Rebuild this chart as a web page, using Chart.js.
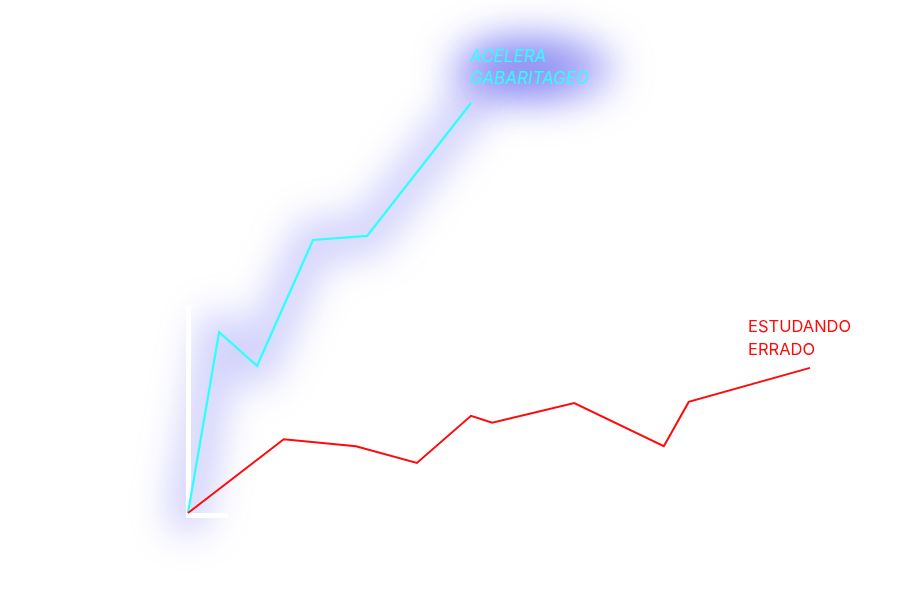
<!DOCTYPE html>
<html>
<head>
<meta charset="utf-8">
<script src="https://cdn.jsdelivr.net/npm/chart.js@4.4.0/dist/chart.umd.min.js"></script>
<style>
  html, body { margin: 0; padding: 0; background: #fff; }
  #wrap { width: 900px; height: 600px; }
</style>
</head>
<body>
<div id="wrap"><canvas id="chart"></canvas></div>
<script>
/* ── data ───────────────────────────────────────────────────── */
const aceleraX = [0, 5.0, 11.1, 20.1, 28.8, 45.5];
const aceleraY = [0, 44.1, 35.9, 66.6, 67.6, 100];
const erradoX  = [0, 15.4, 27.0, 36.8, 45.5, 48.9, 62.1, 76.5, 80.5, 100];
const erradoY  = [0, 18.0, 16.3, 12.2, 23.7, 22.0, 26.8, 16.3, 27.1, 35.4];
const aceleraLabel = ['ACELERA', 'GABARITAGEO'];
const erradoLabel  = ['ESTUDANDO', 'ERRADO'];

const C = {
    cyan: '#2cffff',
    glow: 'rgba(110,110,245,0.30)',
    red:  '#ff0a0a',
};

const GLOW = 2; // index of the glow dataset (drawn first, underneath)

const pts = (xs, ys) => xs.map((x, i) => ({ x, y: ys[i] }));

/* ── plugins ────────────────────────────────────────────────── */
const glowPlugin = {
    id: 'glow',
    beforeDatasetDraw(chart, args) {
        if (args.index !== GLOW) return;
        const ctx = chart.ctx;
        ctx.save();
        ctx.filter = 'blur(18px)';
    },
    afterDatasetDraw(chart, args) {
        if (args.index !== GLOW) return;
        const ctx = chart.ctx;
        ctx.restore();
        // label glow
        const { x, y } = chart.scales;
        const lx = x.getPixelForValue(aceleraX[aceleraX.length - 1]);
        const ly = y.getPixelForValue(aceleraY[aceleraY.length - 1]);
        ctx.save();
        ctx.filter = 'blur(20px)';
        ctx.fillStyle = 'rgba(100,100,240,0.6)';
        ctx.beginPath();
        ctx.ellipse(lx + 62, ly - 34, 80, 32, 0, 0, Math.PI * 2);
        ctx.fill();
        ctx.fillStyle = 'rgba(100,100,240,0.45)';
        ctx.beginPath();
        ctx.ellipse(lx + 50, ly - 34, 50, 20, 0, 0, Math.PI * 2);
        ctx.fill();
        ctx.restore();
        // white clipping strips
        const x0 = x.getPixelForValue(0), y0 = y.getPixelForValue(0);
        ctx.save();
        ctx.fillStyle = '#fff';
        ctx.fillRect(x0 - 2, y0 - 208, 5, 213);
        ctx.fillRect(x0 - 2, y0, 42, 5);
        ctx.restore();
    }
};

const labelPlugin = {
    id: 'endLabels',
    afterDatasetsDraw(chart) {
        const ctx = chart.ctx;
        const { x, y } = chart.scales;
        ctx.save();
        ctx.textAlign = 'left';
        ctx.textBaseline = 'middle';

        let lx = x.getPixelForValue(aceleraX[aceleraX.length - 1]);
        let ly = y.getPixelForValue(aceleraY[aceleraY.length - 1]);
        ctx.font = "italic 17px Inter, 'Noto Sans', sans-serif";
        ctx.fillStyle = C.cyan;
        aceleraLabel.forEach((t, i) => ctx.fillText(t, lx - 1, ly - 46 + i * 22));

        lx = x.getPixelForValue(erradoX[erradoX.length - 1]);
        ly = y.getPixelForValue(erradoY[erradoY.length - 1]);
        ctx.font = "16.5px Inter, 'Noto Sans', sans-serif";
        ctx.fillStyle = C.red;
        erradoLabel.forEach((t, i) => ctx.fillText(t, lx - 62, ly - 41 + i * 23));
        ctx.restore();
    }
};

/* ── chart ──────────────────────────────────────────────────── */
new Chart(document.getElementById('chart'), {
    type: 'scatter',
    data: {
        datasets: [
            {
                label: erradoLabel.join(' '),
                data: pts(erradoX, erradoY),
                showLine: true,
                borderColor: C.red,
                borderWidth: 2,
                pointRadius: 0,
                clip: false,
            },
            {
                label: aceleraLabel.join(' '),
                data: pts(aceleraX, aceleraY),
                showLine: true,
                borderColor: C.cyan,
                borderWidth: 2.2,
                pointRadius: 0,
                clip: false,
            },
            {
                label: 'glow',
                data: pts(aceleraX, aceleraY),
                showLine: true,
                borderColor: C.glow,
                borderWidth: 44,
                borderJoinStyle: 'round',
                borderCapStyle: 'round',
                pointRadius: 0,
                clip: false,
            },
        ]
    },
    options: {
        responsive: true,
        maintainAspectRatio: false,
        animation: false,
        layout: { padding: { left: 188, right: 90, top: 103, bottom: 87 } },
        plugins: {
            legend: { display: false },
            tooltip: { enabled: false },
        },
        scales: {
            x: { type: 'linear', min: 0, max: 100, display: false },
            y: { min: 0, max: 100, display: false },
        }
    },
    plugins: [glowPlugin, labelPlugin]
});
</script>
</body>
</html>
